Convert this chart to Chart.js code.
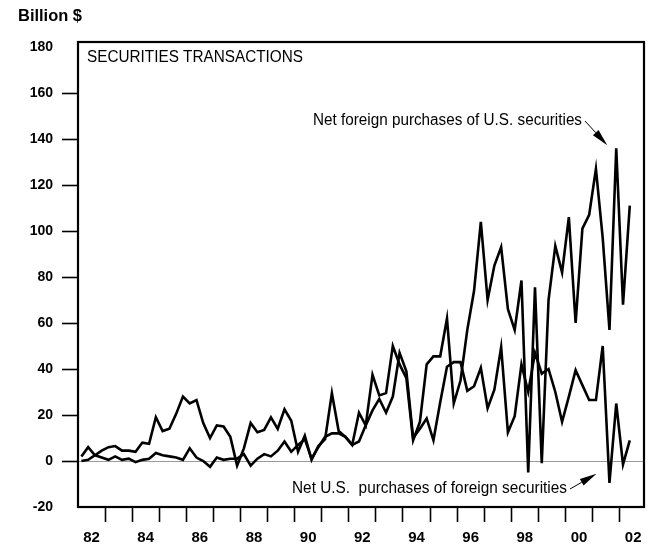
<!DOCTYPE html>
<html>
<head>
<meta charset="utf-8">
<title>Securities transactions</title>
<script src="https://cdn.jsdelivr.net/npm/chart.js@4.4.1/dist/chart.umd.min.js"></script>
<style>
  html, body { margin: 0; padding: 0; background: #fff; }
  canvas { display: block; }
</style>
</head>
<body>
<canvas id="chart" width="650" height="549"></canvas>
<script>
// Quarterly periods, 1982:Q1 through 2002:Q2
const quarters = [];
for (let y = 1982; y <= 2002; y++) {
  for (let q = 1; q <= 4; q++) {
    if (y === 2002 && q > 2) break;
    quarters.push(y + 'Q' + q);
  }
}

// Net foreign purchases of U.S. securities, billions of dollars
const foreignPurchasesOfUS = [
  2, 6, 2.5, 4.5, 6, 6.5, 4.5, 4.5, 4, 8, 7.5, 19,            // 1982-84
  13, 14, 20.5, 28, 25, 26.5, 16.5, 10, 15.5, 15, 10.5, -2,   // 1985-87
  5.5, 16.5, 12.5, 13.5, 19, 14, 22.5, 17.5, 4, 11, 0.5, 6.5, // 1988-90
  9.5, 29.5, 13, 10.5, 7, 21, 15.5, 37.5, 28.5, 29.5, 50, 42, // 1991-93
  36, 9, 17, 42, 45.5, 45.5, 62, 25, 35, 57, 74, 104,         // 1994-96
  70, 85, 93, 66, 57, 78.5, -5, 75.5, -1, 70, 93.5, 82,       // 1997-99
  106, 60, 101, 107, 127, 97, 57, 136, 68, 111                // 2000-02
];

// Net U.S. purchases of foreign securities, billions of dollars
const usPurchasesOfForeign = [
  0, 0.5, 2.5, 1.5, 0.5, 2, 0.5, 1, -0.5, 0.5, 1, 3.5,        // 1982-84
  2.5, 2, 1.5, 0.5, 5.5, 1.5, 0, -2.5, 1.5, 0.5, 1, 1,        // 1985-87
  3, -2, 1, 3, 2, 4.5, 8.5, 4, 7, 9.5, 1, 6,                  // 1988-90
  10.5, 12, 12, 10.5, 7, 8.5, 15.5, 22, 27, 21, 28, 47,       // 1991-93
  39, 10, 14, 18.5, 9, 25.5, 41, 43, 43, 30.5, 32.5, 40.5,    // 1994-96
  23, 31, 49.5, 12.5, 19.5, 42, 30, 47, 38, 40, 30, 17,       // 1997-99
  28, 39.5, 33, 26.5, 26.5, 50, -9.5, 25, -1.5, 9             // 2000-02
];

const yTickValues = [-20, 0, 20, 40, 60, 80, 100, 120, 140, 160, 180];
const yearLabels = ['82', '84', '86', '88', '90', '92', '94', '96', '98', '00', '02'];

const FONT = "'Liberation Sans', Arial, Helvetica, sans-serif";
const CLEAR = 'rgba(0,0,0,0)';

// Each quarter is plotted at its midpoint on a time axis measured in years
function quarterTime(label) {
  const [y, q] = label.split('Q').map(Number);
  return y + (q - 0.5) / 4;
}
const series = values => quarters.map((q, i) => ({ x: quarterTime(q), y: values[i] }));

// Tick marks at year boundaries, labels centred on every other year
const xTickValues = [];
for (let y = 1983; y <= 2002; y++) xTickValues.push(y);
yearLabels.forEach(l => {
  const yr = Number(l) + (Number(l) >= 50 ? 1900 : 2000);
  xTickValues.push(yr + 0.5);
});
xTickValues.sort((a, b) => a - b);

function fitText(ctx, text, x, y, width, font) {
  ctx.font = font;
  const w = ctx.measureText(text).width;
  ctx.save();
  ctx.translate(x, y);
  ctx.scale(width / w, 1);
  ctx.fillText(text, 0, 0);
  ctx.restore();
}

function arrow(ctx, x0, y0, x1, y1) {
  const ang = Math.atan2(y1 - y0, x1 - x0);
  const headLen = 17, headHalf = 3.8;
  const bx = x1 - headLen * Math.cos(ang), by = y1 - headLen * Math.sin(ang);
  ctx.beginPath();
  ctx.moveTo(x0, y0);
  ctx.lineTo(bx, by);
  ctx.lineWidth = 1;
  ctx.stroke();
  ctx.beginPath();
  ctx.moveTo(x1, y1);
  ctx.lineTo(bx + headHalf * Math.sin(ang), by - headHalf * Math.cos(ang));
  ctx.lineTo(bx - headHalf * Math.sin(ang), by + headHalf * Math.cos(ang));
  ctx.closePath();
  ctx.fill();
}

const decorations = {
  id: 'decorations',
  afterDraw(chart) {
    const { ctx, chartArea: a } = chart;
    const xs = chart.scales.x, ys = chart.scales.y;
    ctx.save();
    ctx.fillStyle = '#000';
    ctx.strokeStyle = '#000';
    ctx.textBaseline = 'alphabetic';
    ctx.textAlign = 'left';

    // frame around the plotting area
    ctx.lineWidth = 2.2;
    ctx.strokeRect(a.left, a.top - 5, a.right - a.left, a.bottom - a.top + 5);

    // unit and panel titles
    fitText(ctx, 'Billion $', 18, 20.5, 64, 'bold 16px ' + FONT);
    fitText(ctx, 'SECURITIES TRANSACTIONS', 87, 62, 216, '16px ' + FONT);

    // series labels with arrows pointing at notable quarters
    fitText(ctx, 'Net foreign purchases of U.S. securities', 313, 125, 269, '16px ' + FONT);
    const iPeak = foreignPurchasesOfUS.indexOf(Math.max(...foreignPurchasesOfUS));
    const px = xs.getPixelForValue(quarterTime(quarters[iPeak]));
    const py = ys.getPixelForValue(foreignPurchasesOfUS[iPeak]);
    arrow(ctx, 585, 121, px - 9, py - 3);

    fitText(ctx, 'Net U.S.  purchases of foreign securities', 292, 493, 275, '16px ' + FONT);
    const iLow = usPurchasesOfForeign.indexOf(Math.min(...usPurchasesOfForeign));
    const lx = xs.getPixelForValue(quarterTime(quarters[iLow]));
    const ly = ys.getPixelForValue(usPurchasesOfForeign[iLow]);
    arrow(ctx, 570, 489, lx - 13, ly - 9);

    ctx.restore();
  }
};

const lineStyle = {
  borderColor: '#000',
  borderWidth: 2.6,
  pointRadius: 0,
  tension: 0,
  fill: false,
  borderJoinStyle: 'miter'
};

new Chart(document.getElementById('chart'), {
  type: 'line',
  data: {
    datasets: [
      Object.assign({ label: 'Net foreign purchases of U.S. securities', data: series(foreignPurchasesOfUS) }, lineStyle),
      Object.assign({ label: 'Net U.S. purchases of foreign securities', data: series(usPurchasesOfForeign) }, lineStyle)
    ]
  },
  options: {
    responsive: false,
    animation: false,
    devicePixelRatio: 1,
    layout: { padding: { top: 47, right: 6, left: 0, bottom: 0 } },
    plugins: { legend: { display: false }, tooltip: { enabled: false } },
    scales: {
      x: {
        type: 'linear',
        min: 1982,
        max: 2002.9,
        afterBuildTicks: s => { s.ticks = xTickValues.map(v => ({ value: v })); },
        afterFit: s => { s.height = 42; },
        border: { display: false },
        grid: {
          drawOnChartArea: false,
          drawTicks: true,
          tickLength: 15,
          tickWidth: 1.6,
          tickColor: c => (c.tick && Number.isInteger(c.tick.value)) ? '#000' : CLEAR
        },
        ticks: {
          autoSkip: false,
          maxRotation: 0,
          padding: 7,
          color: '#000',
          font: { family: FONT, size: 15, weight: 'bold' },
          callback: v => {
            if (Number.isInteger(v)) return '';
            const yr = Math.floor(v);
            return yr % 2 === 0 ? String(yr).slice(2) : '';
          }
        }
      },
      y: {
        min: -20,
        max: 180,
        afterBuildTicks: s => { s.ticks = yTickValues.map(v => ({ value: v })); },
        afterFit: s => { s.width = 78; },
        border: { display: false },
        grid: {
          drawOnChartArea: true,
          color: c => (c.tick && c.tick.value === 0) ? '#9a9a9a' : CLEAR,
          lineWidth: 1,
          tickLength: 16,
          tickWidth: 1.6,
          tickColor: c => (c.tick && (c.tick.value === 180 || c.tick.value === -20)) ? CLEAR : '#000'
        },
        ticks: {
          padding: 9,
          color: '#000',
          font: { family: FONT, size: 14, weight: 'bold' }
        }
      }
    }
  },
  plugins: [decorations]
});
</script>
</body>
</html>
